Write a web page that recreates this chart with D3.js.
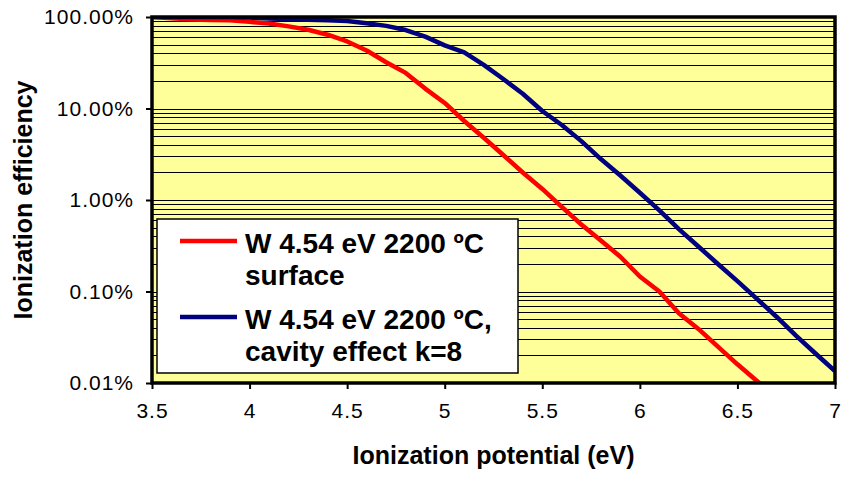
<!DOCTYPE html>
<html>
<head>
<meta charset="utf-8">
<script src="https://cdn.jsdelivr.net/npm/d3@7"></script>
<style>
  body { margin: 0; background: #fff; }
  text { font-family: "Liberation Sans", Arial, sans-serif; }
</style>
</head>
<body>
<div id="chart"></div>
<script>
// ionization potential (eV) and efficiency (%)
const ipSurface = [3.5, 3.6, 3.7, 3.8, 3.9, 4.0, 4.1, 4.2, 4.3, 4.4, 4.5, 4.6, 4.7, 4.8, 4.9, 5.0,
  5.1, 5.2, 5.3, 5.4, 5.5, 5.6, 5.7, 5.8, 5.9, 6.0, 6.1, 6.2, 6.3, 6.4, 6.5, 6.6, 6.65];
const effSurface = [99.9, 97, 94, 93, 92, 88.5, 85, 79, 72.5, 64, 54, 43, 32, 24.5, 16.5, 11.5,
  7.3, 4.8, 3.1, 2.0, 1.32, 0.84, 0.54, 0.36, 0.24, 0.146, 0.10, 0.058, 0.039, 0.025, 0.016, 0.0105, 0.0085];

const ipCavity = [3.5, 3.6, 3.7, 3.8, 3.9, 4.0, 4.1, 4.2, 4.3, 4.4, 4.5, 4.6, 4.7, 4.8, 4.9, 5.0,
  5.1, 5.2, 5.3, 5.4, 5.5, 5.6, 5.7, 5.8, 5.9, 6.0, 6.1, 6.2, 6.3, 6.4, 6.5, 6.6, 6.7, 6.8, 6.9, 7.0];
const effCavity = [99.9, 99.9, 99.9, 99.9, 99.9, 98.5, 96, 95, 93.5, 92, 90.5, 85.5, 80, 72, 61, 49,
  41, 30, 21, 14.5, 9.4, 6.6, 4.4, 2.8, 1.85, 1.2, 0.77, 0.48, 0.31, 0.2, 0.13, 0.083, 0.053, 0.033, 0.021, 0.0135];

const xTicks = [3.5, 4, 4.5, 5, 5.5, 6, 6.5, 7];
const yTicks = [0.01, 0.1, 1, 10, 100];
const legendLabels = [["W 4.54 eV 2200 ºC", "surface"], ["W 4.54 eV 2200 ºC,", "cavity effect k=8"]];
const colors = ["#ff0000", "#000080"];

const width = 845, height = 496;
const plot = { left: 152, right: 835, top: 17, bottom: 383 };

const svg = d3.select("#chart").append("svg")
  .attr("width", width).attr("height", height);

const x = d3.scaleLinear().domain([3.5, 7]).range([plot.left, plot.right]);
const y = d3.scaleLog().domain([0.01, 100]).range([plot.bottom, plot.top]);

// plot area
svg.append("rect")
  .attr("x", plot.left).attr("y", plot.top)
  .attr("width", plot.right - plot.left).attr("height", plot.bottom - plot.top)
  .attr("fill", "#ffff99");

svg.append("clipPath").attr("id", "clip").append("rect")
  .attr("x", plot.left).attr("y", plot.top)
  .attr("width", plot.right - plot.left).attr("height", plot.bottom - plot.top);

// gridlines at every 1..9 of each decade
svg.append("g").selectAll("line")
  .data(y.ticks().filter(v => v > 0.01 && v < 100))
  .enter().append("line")
  .attr("x1", plot.left).attr("x2", plot.right)
  .attr("y1", d => Math.round(y(d)) + 0.5).attr("y2", d => Math.round(y(d)) + 0.5)
  .attr("stroke", "#000").attr("stroke-width", 1.2);

// series
const line = d3.line().x(d => x(d[0])).y(d => y(d[1]));
const series = [d3.zip(ipSurface, effSurface), d3.zip(ipCavity, effCavity)];
svg.append("g").attr("clip-path", "url(#clip)")
  .selectAll("path").data(series).enter().append("path")
  .attr("d", line)
  .attr("fill", "none")
  .attr("stroke", (d, i) => colors[i])
  .attr("stroke-width", 4.5)
  .attr("stroke-linejoin", "round");

// axes
const yAxis = svg.append("g")
  .attr("transform", `translate(${plot.left},0)`)
  .call(d3.axisLeft(y).tickValues(yTicks).tickSize(6).tickPadding(12)
    .tickFormat(d => d3.format(".2f")(d) + "%"));
const xAxis = svg.append("g")
  .attr("transform", `translate(0,${plot.bottom})`)
  .call(d3.axisBottom(x).tickValues(xTicks).tickSize(6).tickPadding(14)
    .tickFormat(d3.format("")));
[xAxis, yAxis].forEach(a => {
  a.select(".domain").remove();
  a.selectAll("line").attr("stroke", "#000").attr("stroke-width", 2);
  a.selectAll("text").attr("fill", "#000")
    .style("font-size", "21px").style("letter-spacing", "1px")
    .style("font-family", "'Liberation Sans', Arial, sans-serif");
});

// plot border on top
svg.append("rect")
  .attr("x", plot.left).attr("y", plot.top)
  .attr("width", plot.right - plot.left).attr("height", plot.bottom - plot.top)
  .attr("fill", "none").attr("stroke", "#000").attr("stroke-width", 3.5);

// axis titles
svg.append("text")
  .attr("x", (plot.left + plot.right) / 2).attr("y", 464)
  .attr("text-anchor", "middle")
  .style("font-size", "25px").style("font-weight", "bold")
  .text("Ionization potential (eV)");
svg.append("text")
  .attr("transform", `translate(32,${(plot.top + plot.bottom) / 2}) rotate(-90)`)
  .attr("text-anchor", "middle")
  .style("font-size", "25px").style("font-weight", "bold")
  .text("Ionization efficiency");

// legend
const legend = svg.append("g");
legend.append("rect")
  .attr("x", 157).attr("y", 219).attr("width", 361).attr("height", 154)
  .attr("fill", "#fff").attr("stroke", "#000").attr("stroke-width", 1.5);
const entries = legend.selectAll("g.entry").data(legendLabels).enter()
  .append("g").attr("class", "entry")
  .attr("transform", (d, i) => `translate(0,${i * 76})`);
entries.append("line")
  .attr("x1", 180).attr("x2", 237).attr("y1", 241).attr("y2", 241)
  .attr("stroke", (d, i) => colors[i]).attr("stroke-width", 4.5);
entries.append("text")
  .attr("x", 245).attr("y", 253)
  .style("font-size", "28px").style("font-weight", "bold")
  .selectAll("tspan").data(d => d).enter().append("tspan")
  .attr("x", 245).attr("dy", (d, i) => i ? 32 : 0)
  .text(d => d);
</script>
</body>
</html>
